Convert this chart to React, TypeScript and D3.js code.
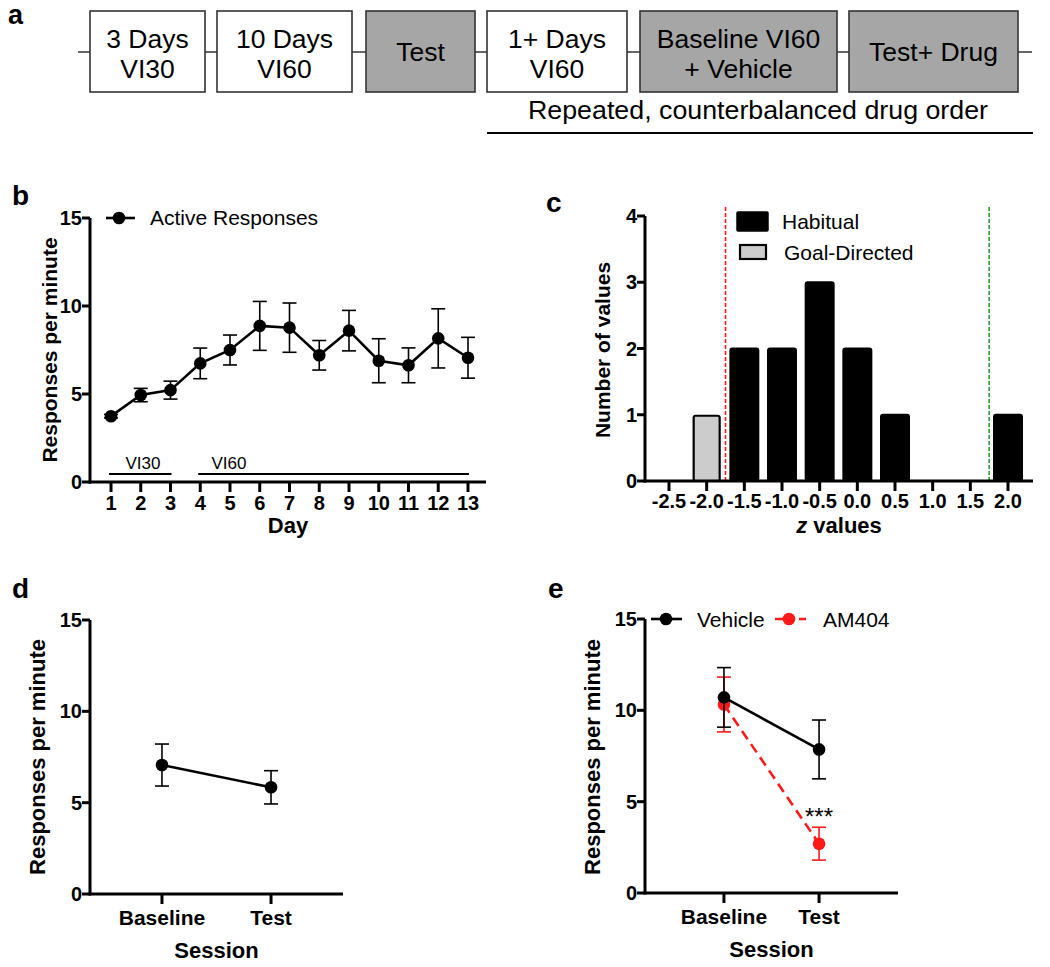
import React from "react";
import * as d3 from "d3";

// ---------- DATA ----------
// panel a: protocol timeline
const stepLines: string[][] = [
  ["3 Days", "VI30"],
  ["10 Days", "VI60"],
  ["Test"],
  ["1+ Days", "VI60"],
  ["Baseline VI60", "+ Vehicle"],
  ["Test+ Drug"],
];
const stepShaded = [false, false, true, false, true, true];
const repeatNote = "Repeated, counterbalanced drug order";

// panel b: acquisition
const days = [1, 2, 3, 4, 5, 6, 7, 8, 9, 10, 11, 12, 13];
const activeMean = [3.74, 4.94, 5.22, 6.74, 7.5, 8.87, 8.77, 7.2, 8.6, 6.89, 6.63, 8.16, 7.06];
const activeSem = [0.1, 0.38, 0.51, 0.87, 0.85, 1.39, 1.4, 0.84, 1.15, 1.25, 0.99, 1.68, 1.16];
const scheduleBars = [
  { label: "VI30", from: 1, to: 3 },
  { label: "VI60", from: 4, to: 13 },
];

// panel c: z-value histogram
const zBins = [-2.5, -2.0, -1.5, -1.0, -0.5, 0.0, 0.5, 1.0, 1.5, 2.0];
const habitualCounts = [0, 0, 2, 2, 3, 2, 1, 0, 0, 1];
const goalDirectedCounts = [0, 1, 0, 0, 0, 0, 0, 0, 0, 0];
const zCutoffs = [-1.75, 1.75];

// panel d / e
const sessions = ["Baseline", "Test"];
const devMean = [7.06, 5.84];
const devSem = [1.15, 0.91];
const vehicleMean = [10.71, 7.86];
const vehicleSem = [1.63, 1.61];
const am404Mean = [10.32, 2.7];
const am404Sem = [1.5, 0.9];

// ---------- LAYOUT ----------
const FONT = "'Liberation Sans', Arial, Helvetica, sans-serif";
const stepX = [[90, 205], [217, 352], [366, 475], [487, 627], [640, 837], [849, 1018]];

const AX = 3;

function YAxis({ x, y, ticks, fmt }: { x: number; y: d3.ScaleLinear<number, number>; ticks: number[]; fmt?: (v: number) => string }) {
  const [r0, r1] = y.range();
  return (
    <g>
      <line x1={x} x2={x} y1={r0 + AX / 2} y2={r1} stroke="#000" strokeWidth={AX} />
      {ticks.map((t) => (
        <g key={t}>
          <line x1={x - 8} x2={x} y1={y(t)} y2={y(t)} stroke="#000" strokeWidth={AX} />
          <text x={x - 8} y={y(t) + 7} textAnchor="end" fontSize={20} fontWeight="bold" fontFamily={FONT}>
            {fmt ? fmt(t) : t}
          </text>
        </g>
      ))}
    </g>
  );
}

function ErrorBar({ x, y, lo, hi, color, cap = 7 }: { x: number; y: d3.ScaleLinear<number, number>; lo: number; hi: number; color: string; cap?: number }) {
  return (
    <g stroke={color} strokeWidth={1.6}>
      <line x1={x} x2={x} y1={y(lo)} y2={y(hi)} />
      <line x1={x - cap} x2={x + cap} y1={y(lo)} y2={y(lo)} />
      <line x1={x - cap} x2={x + cap} y1={y(hi)} y2={y(hi)} />
    </g>
  );
}

function PanelA() {
  return (
    <g fontFamily={FONT}>
      <text x={8} y={24} fontSize={27} fontWeight="bold">a</text>
      <line x1={78} x2={1032} y1={52} y2={52} stroke="#333" strokeWidth={1.6} />
      {stepLines.map((lines, i) => {
        const [x0, x1] = stepX[i];
        const cx = (x0 + x1) / 2;
        return (
          <g key={i}>
            <rect x={x0} y={11} width={x1 - x0} height={81} fill={stepShaded[i] ? "#a6a6a6" : "#fff"} stroke="#333" strokeWidth={1.6} />
            {lines.length === 2 ? (
              <>
                <text x={cx} y={48} textAnchor="middle" fontSize={26.5}>{lines[0]}</text>
                <text x={cx} y={78} textAnchor="middle" fontSize={26.5}>{lines[1]}</text>
              </>
            ) : (
              <text x={cx} y={61} textAnchor="middle" fontSize={26.5}>{lines[0]}</text>
            )}
          </g>
        );
      })}
      <text x={758} y={119} textAnchor="middle" fontSize={26.5} textLength={460} lengthAdjust="spacingAndGlyphs">{repeatNote}</text>
      <line x1={487} x2={1033} y1={133} y2={133} stroke="#000" strokeWidth={2} />
    </g>
  );
}

function PanelB() {
  const x = d3.scaleLinear().domain([1, 13]).range([111, 468]);
  const y = d3.scaleLinear().domain([0, 15]).range([482, 218]);
  const line = d3.line<number>().x((_, i) => x(days[i])).y((d) => y(d));
  return (
    <g fontFamily={FONT}>
      <text x={12} y={205} fontSize={28} fontWeight="bold">b</text>
      <YAxis x={90} y={y} ticks={[0, 5, 10, 15]} />
      <line x1={90 - AX / 2} x2={486} y1={y(0)} y2={y(0)} stroke="#000" strokeWidth={AX} />
      {days.map((d) => (
        <g key={d}>
          <line x1={x(d)} x2={x(d)} y1={y(0)} y2={y(0) + 10} stroke="#000" strokeWidth={AX} />
          <text x={x(d)} y={510} textAnchor="middle" fontSize={20} fontWeight="bold">{d}</text>
        </g>
      ))}
      <text x={288} y={533} textAnchor="middle" fontSize={22} fontWeight="bold">Day</text>
      <text transform={`translate(57,350) rotate(-90)`} textAnchor="middle" fontSize={21} fontWeight="bold">Responses per minute</text>
      {scheduleBars.map((s) => (
        <g key={s.label}>
          <line x1={x(s.from) - 2} x2={x(s.to) + 1} y1={474} y2={474} stroke="#000" strokeWidth={2} />
          <text x={s.from === 1 ? 143 : 229} y={469} textAnchor="middle" fontSize={17}>{s.label}</text>
        </g>
      ))}
      {days.map((d, i) => (
        <ErrorBar key={d} x={x(d)} y={y} lo={activeMean[i] - activeSem[i]} hi={activeMean[i] + activeSem[i]} color="#000" />
      ))}
      <path d={line(activeMean) || ""} fill="none" stroke="#000" strokeWidth={2.6} />
      {days.map((d, i) => (
        <circle key={d} cx={x(d)} cy={y(activeMean[i])} r={6.3} fill="#000" />
      ))}
      <line x1={106} x2={135} y1={218} y2={218} stroke="#000" strokeWidth={2.6} />
      <circle cx={119} cy={218} r={6.3} fill="#000" />
      <text x={150} y={225} fontSize={21}>Active Responses</text>
    </g>
  );
}

function PanelC() {
  const x = d3.scaleLinear().domain([-2.5, 2.0]).range([669, 1008]);
  const y = d3.scaleLinear().domain([0, 4]).range([481, 216]);
  const bw = 28;
  return (
    <g fontFamily={FONT}>
      <text x={546} y={212} fontSize={28} fontWeight="bold">c</text>
      {zCutoffs.map((z, i) => (
        <line key={z} x1={x(z)} x2={x(z)} y1={207} y2={y(0)} stroke={i === 0 ? "#ff1a1a" : "#2e9a2e"} strokeWidth={1.6} strokeDasharray="4,2" />
      ))}
      {zBins.map((z, i) =>
        habitualCounts[i] > 0 ? (
          <rect key={"h" + z} x={x(z) - bw / 2} y={y(habitualCounts[i])} width={bw} height={y(0) - y(habitualCounts[i])} fill="#000" stroke="#000" strokeWidth={2} rx={2} />
        ) : null
      )}
      {zBins.map((z, i) =>
        goalDirectedCounts[i] > 0 ? (
          <rect key={"g" + z} x={x(z) - bw / 2 + 1} y={y(goalDirectedCounts[i]) + 1} width={bw - 2} height={y(0) - y(goalDirectedCounts[i]) - 1} fill="#cccccc" stroke="#000" strokeWidth={2.2} rx={2} />
        ) : null
      )}
      <YAxis x={645} y={y} ticks={[0, 1, 2, 3, 4]} />
      <line x1={645 - AX / 2} x2={1033} y1={y(0)} y2={y(0)} stroke="#000" strokeWidth={AX} />
      {zBins.map((z) => (
        <g key={z}>
          <line x1={x(z)} x2={x(z)} y1={y(0)} y2={y(0) + 10} stroke="#000" strokeWidth={AX} />
          <text x={x(z)} y={508} textAnchor="middle" fontSize={20} fontWeight="bold">{z.toFixed(1)}</text>
        </g>
      ))}
      <text x={839} y={533} textAnchor="middle" fontSize={22} fontWeight="bold">
        <tspan fontStyle="italic">z</tspan> values
      </text>
      <text transform={`translate(610,350) rotate(-90)`} textAnchor="middle" fontSize={21} fontWeight="bold">Number of values</text>
      <rect x={737} y={212} width={31} height={19} fill="#000" stroke="#000" strokeWidth={1.5} rx={1} />
      <text x={782} y={229} fontSize={21}>Habitual</text>
      <rect x={740} y={245} width={26} height={14} fill="#cccccc" stroke="#000" strokeWidth={2.2} />
      <text x={784} y={260} fontSize={21}>Goal-Directed</text>
    </g>
  );
}

function SessionPanel({ letter, letterX, axisX, y0, y15, pad, series, legend }: any) {
  const y = d3.scaleLinear().domain([0, 15]).range([y0, y15]);
  const axisEnd = axisX + 253;
  const x = d3.scalePoint<string>().domain(sessions).range([axisX, axisEnd]).padding(pad);
  const mid = (axisX + axisEnd) / 2;
  return (
    <g fontFamily={FONT}>
      <text x={letterX} y={598} fontSize={28} fontWeight="bold">{letter}</text>
      <YAxis x={axisX} y={y} ticks={[0, 5, 10, 15]} />
      <line x1={axisX - AX / 2} x2={axisEnd} y1={y(0)} y2={y(0)} stroke="#000" strokeWidth={AX} />
      {sessions.map((s) => (
        <g key={s}>
          <line x1={x(s)!} x2={x(s)!} y1={y(0)} y2={y(0) + 10} stroke="#000" strokeWidth={AX} />
          <text x={x(s)!} y={y0 + 31} textAnchor="middle" fontSize={21} fontWeight="bold">{s}</text>
        </g>
      ))}
      <text x={mid} y={y0 + 64} textAnchor="middle" fontSize={22} fontWeight="bold">Session</text>
      <text transform={`translate(${axisX - 45},757) rotate(-90)`} textAnchor="middle" fontSize={22} fontWeight="bold">Responses per minute</text>
      {series.map((sr: any) => {
        const line = d3.line<number>().x((_, i) => x(sessions[i])!).y((d) => y(d));
        return (
          <g key={sr.name}>
            {sessions.map((s, i) => (
              <ErrorBar key={s} x={x(s)!} y={y} lo={sr.mean[i] - sr.sem[i]} hi={sr.mean[i] + sr.sem[i]} color={sr.color} />
            ))}
            <path d={line(sr.mean) || ""} fill="none" stroke={sr.color} strokeWidth={2.6} strokeDasharray={sr.dash || null} />
            {sessions.map((s, i) => (
              <circle key={s} cx={x(s)!} cy={y(sr.mean[i])} r={6.3} fill={sr.color} />
            ))}
          </g>
        );
      })}
      {legend ? legend(y) : null}
    </g>
  );
}

export default function App() {
  return (
    <svg width={1050} height={967} style={{ position: "absolute", left: 0, top: 0, background: "#fff" }}>
      <rect x={0} y={0} width={1050} height={967} fill="#fff" />
      <PanelA />
      <PanelB />
      <PanelC />
      <SessionPanel
        letter="d"
        letterX={12}
        axisX={90}
        y0={894}
        y15={620}
        pad={0.66}
        series={[{ name: "all", mean: devMean, sem: devSem, color: "#000" }]}
      />
      <SessionPanel
        letter="e"
        letterX={548}
        axisX={645}
        y0={893}
        y15={619}
        pad={0.83}
        series={[
          { name: "AM404", mean: am404Mean, sem: am404Sem, color: "#ff1a1a", dash: "10,6" },
          { name: "Vehicle", mean: vehicleMean, sem: vehicleSem, color: "#000" },
        ]}
        legend={(y: any) => (
          <g fontFamily={FONT}>
            <text x={819} y={825} textAnchor="middle" fontSize={24}>***</text>
            <line x1={651} x2={682} y1={619} y2={619} stroke="#000" strokeWidth={2.6} />
            <circle cx={666} cy={619} r={6.3} fill="#000" />
            <text x={697} y={627} fontSize={21}>Vehicle</text>
            <line x1={775} x2={806} y1={619} y2={619} stroke="#ff1a1a" strokeWidth={2.6} strokeDasharray="8,4" />
            <circle cx={789} cy={619} r={6.3} fill="#ff1a1a" />
            <text x={823} y={627} fontSize={21}>AM404</text>
          </g>
        )}
      />
    </svg>
  );
}
